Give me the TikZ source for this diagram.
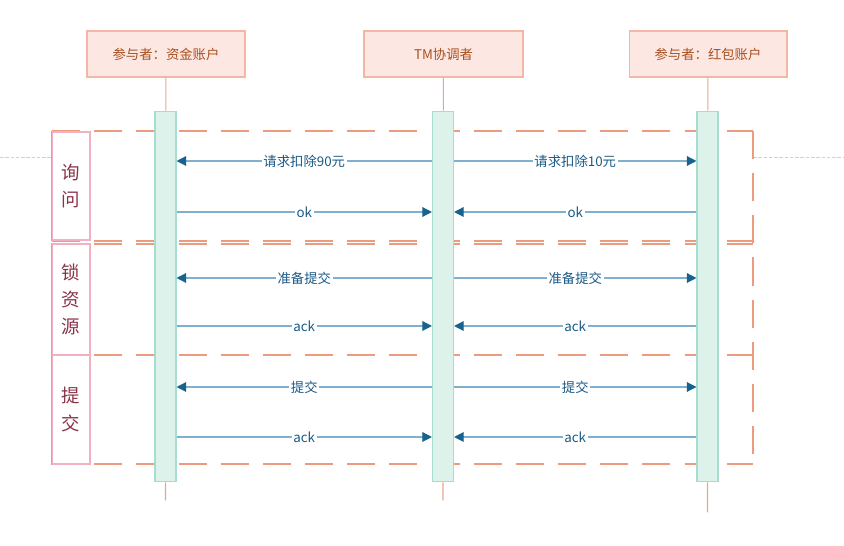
\documentclass[tikz,border=0pt]{standalone}
\usepackage{fontspec}
\newfontfamily\cjk{Noto Sans CJK SC}
\usetikzlibrary{arrows.meta}
\definecolor{boxfill}{HTML}{FDE7E2}
\definecolor{boxdraw}{HTML}{F4B7A5}
\definecolor{partytext}{HTML}{A8501F}
\definecolor{barfill}{HTML}{DDF2EA}
\definecolor{bardraw}{HTML}{A6DDD0}
\definecolor{lifecol}{HTML}{EBA58E}
\definecolor{msgline}{HTML}{7FB0CF}
\definecolor{tipcol}{HTML}{17628F}
\definecolor{msgtext}{HTML}{1A5A86}
\definecolor{stagedraw}{HTML}{EC9B7E}
\definecolor{stageedge}{HTML}{F3B0C0}
\definecolor{stagetext}{HTML}{8A3348}
\tikzset{
  party/.style={draw=boxdraw,fill=boxfill,text=partytext,line width=0.6pt,
    minimum height=0.92cm,font=\cjk\fontsize{7.6}{9}\selectfont},
  bar/.style={draw=bardraw,fill=barfill,line width=0.6pt,
    minimum width=0.42cm,minimum height=7.42cm},
  life/.style={draw=lifecol,line width=0.6pt},
  msg/.style={draw=msgline,line width=0.7pt,
    -{Triangle[length=5.5pt,width=5.5pt,fill=tipcol,color=tipcol]}},
  msgtxt/.style={fill=white,text=msgtext,inner sep=1pt,
    font=\cjk\fontsize{7.6}{9}\selectfont},
  stage/.style={draw=stagedraw,line width=0.6pt,dash pattern=on 16pt off 8pt},
  stagebox/.style={draw=stageedge,line width=0.6pt,text=stagetext,align=center,
    minimum width=0.76cm,font=\cjk\fontsize{10.5}{15.5}\selectfont}
}
\begin{document}
\begin{tikzpicture}[x=0.02cm,y=-0.02cm]
\useasboundingbox (0,0) rectangle (844,546);
% guide line
\draw[black!18,dash pattern=on 2pt off 1pt] (0,157) -- (52,157) (753,157) -- (844,157);
% stages
\foreach \y in {131,241,244,355,464}
  \draw[stage] (52,\y) -- (753,\y);
\draw[stage] (753,131) -- (753,464);
\node[stagebox,minimum height=2.16cm] (st1) at (71,186) {询\\问};
\node[stagebox,minimum height=2.22cm] (st2) at (71,299.5) {锁\\资\\源};
\node[stagebox,minimum height=2.18cm] (st3) at (71,409.5) {提\\交};
\draw[stagedraw,line width=0.6pt] (st1.north west) -- (st1.south west)
  (st2.north west) -- (st3.south west);
% participants
\node[party,minimum width=3.16cm] (partA) at (166,54) {参与者：资金账户};
\node[party,minimum width=3.18cm] (partB) at (443.5,54) {TM协调者};
\node[party,minimum width=3.16cm] (partC) at (708,54) {参与者：红包账户};
\node[bar] (barA) at (165.5,296.5) {};
\node[bar] (barB) at (443,296.5) {};
\node[bar] (barC) at (707.5,296.5) {};
\draw[life] (partA) -- (barA) (barA.south) -- ++(0,18);
\draw[life] (partB) -- (barB) (barB.south) -- ++(0,18);
\draw[life] (partC) -- (barC) (barC.south) -- ++(0,30);
% messages
\foreach \y/\ltxt/\rtxt/\o [count=\i] in {161/请求扣除90元/请求扣除10元/1,
    212/ok/ok/0, 278/准备提交/准备提交/1, 326/ack/ack/0,
    387/提交/提交/1, 437/ack/ack/0}{
  \coordinate (a\i) at (barA.east |- 0,\y);
  \coordinate (bl\i) at (barB.west |- 0,\y);
  \coordinate (br\i) at (barB.east |- 0,\y);
  \coordinate (c\i) at (barC.west |- 0,\y);
  \ifnum\o=1
    \draw[msg] (bl\i) -- node[msgtxt]{\ltxt} (a\i);
    \draw[msg] (br\i) -- node[msgtxt]{\rtxt} (c\i);
  \else
    \draw[msg] (a\i) -- node[msgtxt]{\ltxt} (bl\i);
    \draw[msg] (c\i) -- node[msgtxt]{\rtxt} (br\i);
  \fi
}
\end{tikzpicture}
\end{document}
